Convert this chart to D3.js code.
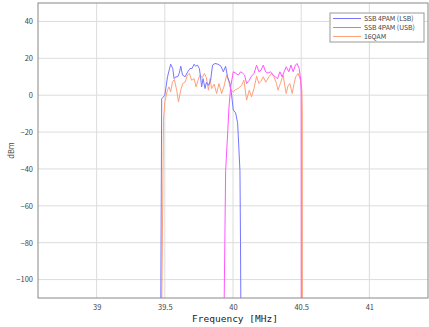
<!DOCTYPE html>
<html>
<head>
<meta charset="utf-8">
<script src="https://cdn.jsdelivr.net/npm/d3@7"></script>
<style>
  body { margin: 0; background: #fff; }
  svg { display: block; }
</style>
</head>
<body>
<div id="chart"></div>
<script>
// spectrum traces (MHz / dBm)
const lsbFreq = [39.470, 39.477, 39.500, 39.520, 39.543, 39.558, 39.568, 39.582, 39.595, 39.606, 39.617, 39.630, 39.649, 39.668, 39.685, 39.700, 39.715, 39.726, 39.740, 39.753, 39.762, 39.770, 39.780, 39.795, 39.805, 39.820, 39.836, 39.850, 39.868, 39.890, 39.912, 39.929, 39.946, 39.960, 39.978, 39.990, 40.002, 40.019, 40.034, 40.051, 40.055, 40.058];
const lsbDbm = [-120, -2, 0, 10, 16.8, 14.5, 9, 10, 10, 12, 15.7, 10.9, 10, 12.7, 14.5, 14.5, 16.8, 15.7, 16.3, 14.5, 10, 4.5, 9, 3.6, 7, 5.4, 8.1, 16.3, 17.2, 16.8, 15.7, 12.7, 15.7, 10, 6.3, 0, -8, -9.6, -15, -41, -80, -120];

const usbFreq = [39.934, 39.946, 39.962, 39.970, 39.983, 40.002, 40.022, 40.039, 40.056, 40.070, 40.085, 40.100, 40.119, 40.136, 40.154, 40.173, 40.190, 40.205, 40.222, 40.239, 40.257, 40.275, 40.295, 40.310, 40.327, 40.344, 40.360, 40.380, 40.390, 40.410, 40.425, 40.441, 40.458, 40.470, 40.485, 40.497, 40.500, 40.501];
const usbDbm = [-120, -41, -19, -7, 4.5, 12.7, 11.8, 10.9, 12.7, 12, 10.9, 6.3, 8.1, 10.3, 11.8, 16.3, 12.7, 13.5, 16.3, 12.7, 12, 12.7, 10.9, 10, 9, 12.7, 10, 13.6, 15.4, 12.7, 16.3, 12.7, 16.3, 17.2, 14.5, 8.1, 0.9, -120];

const qamFreq = [39.477, 39.490, 39.500, 39.519, 39.531, 39.543, 39.556, 39.570, 39.587, 39.600, 39.617, 39.631, 39.650, 39.666, 39.680, 39.697, 39.715, 39.729, 39.743, 39.758, 39.775, 39.790, 39.805, 39.820, 39.832, 39.843, 39.862, 39.880, 39.897, 39.917, 39.935, 39.953, 39.968, 39.985, 40.002, 40.020, 40.039, 40.063, 40.080, 40.100, 40.119, 40.136, 40.154, 40.173, 40.190, 40.205, 40.222, 40.240, 40.263, 40.283, 40.300, 40.319, 40.330, 40.350, 40.368, 40.378, 40.390, 40.403, 40.417, 40.434, 40.447, 40.460, 40.478, 40.495, 40.505, 40.508, 40.509];
const qamDbm = [-120, -13.6, -3.6, 2.7, 4.5, 1.8, 7.2, 8.5, 2.7, -3.6, 2.7, 6.3, 7.2, 10.9, 11.8, 8.1, 9, 4.5, 8, 10.9, 9.5, 11.8, 9.5, 2.7, 9, 3.6, 6, 0.9, 6.3, 0.9, 5, 10.9, 7.5, 2.7, 1.8, 3.1, 3.6, 5.4, 8.1, -2.7, 2.7, -0.9, 3.6, 10.3, 6.3, 7.5, 10, 7, 10, 11.8, 10, 6.3, 2.7, 7, 10.9, 6, 0.9, 5, 6.3, 0.9, 6, 10, 11.8, 8.1, 2.7, -8, -120];

const seriesNames = ["SSB 4PAM (LSB)", "SSB 4PAM (USB)", "16QAM"];
const seriesColors = ["#7676ff", "#ff55ff", "#ffa078"];
const xTicks = [39, 39.5, 40, 40.5, 41];
const yTicks = [-100, -80, -60, -40, -20, 0, 20, 40];

const width = 429, height = 327;
const plotLeft = 38, plotRight = 428, plotTop = 3, plotBottom = 298;

const svg = d3.select("#chart").append("svg")
  .attr("width", width)
  .attr("height", height);

const x = d3.scaleLinear().domain([38.57, 41.43]).range([plotLeft, plotRight]);
const y = d3.scaleLinear().domain([-110, 50]).range([plotBottom, plotTop]);

// grid
svg.append("g").selectAll("line").data(xTicks).enter().append("line")
  .attr("x1", d => x(d)).attr("x2", d => x(d))
  .attr("y1", plotTop).attr("y2", plotBottom)
  .attr("stroke", "#dcdcdc").attr("stroke-width", 1);
svg.append("g").selectAll("line").data(yTicks).enter().append("line")
  .attr("x1", plotLeft).attr("x2", plotRight)
  .attr("y1", d => y(d)).attr("y2", d => y(d))
  .attr("stroke", "#dcdcdc").attr("stroke-width", 1);

svg.append("clipPath").attr("id", "clip").append("rect")
  .attr("x", plotLeft).attr("y", plotTop)
  .attr("width", plotRight - plotLeft).attr("height", plotBottom - plotTop);

const traces = [
  lsbFreq.map((f, i) => [f, lsbDbm[i]]),
  usbFreq.map((f, i) => [f, usbDbm[i]]),
  qamFreq.map((f, i) => [f, qamDbm[i]])
];

const line = d3.line().x(d => x(d[0])).y(d => y(d[1]));

// draw 16QAM first so the others sit on top like the original
const order = [2, 0, 1];
svg.append("g").attr("clip-path", "url(#clip)")
  .selectAll("path").data(order).enter().append("path")
  .attr("d", i => line(traces[i]))
  .attr("fill", "none")
  .attr("stroke", i => seriesColors[i])
  .attr("stroke-width", 1);

// axes
const xAxis = svg.append("g").attr("transform", "translate(0," + plotBottom + ")")
  .call(d3.axisBottom(x).tickValues(xTicks).tickSize(0).tickPadding(7).tickFormat(d3.format("")));
const yAxis = svg.append("g").attr("transform", "translate(" + plotLeft + ",0)")
  .call(d3.axisLeft(y).tickValues(yTicks).tickSize(0).tickPadding(5));
[xAxis, yAxis].forEach(a => {
  a.select(".domain").remove();
  a.selectAll("text").attr("font-family", "Noto Sans CJK JP, sans-serif")
    .attr("font-size", 7.5).attr("fill", "#444");
});

// frame
svg.append("rect")
  .attr("x", plotLeft).attr("y", plotTop)
  .attr("width", plotRight - plotLeft).attr("height", plotBottom - plotTop)
  .attr("fill", "none").attr("stroke", "#888").attr("stroke-width", 1);

svg.append("text")
  .attr("x", (plotLeft + plotRight) / 2 + 2).attr("y", 322)
  .attr("text-anchor", "middle")
  .attr("font-family", "DejaVu Sans Mono, monospace")
  .attr("font-size", 9.5).attr("fill", "#222")
  .text("Frequency [MHz]");

svg.append("text")
  .attr("transform", "translate(14," + ((plotTop + plotBottom) / 2) + ") rotate(-90)")
  .attr("text-anchor", "middle")
  .attr("font-family", "Noto Sans CJK JP, sans-serif")
  .attr("font-size", 7.5).attr("fill", "#444")
  .text("dBm");

// legend
const lg = svg.append("g").attr("transform", "translate(330,13)");
lg.append("rect").attr("width", 94).attr("height", 29)
  .attr("fill", "#fff").attr("stroke", "#999").attr("stroke-width", 1);
seriesNames.forEach((name, i) => {
  const yy = 5.5 + i * 9;
  lg.append("line").attr("x1", 3).attr("x2", 31).attr("y1", yy).attr("y2", yy)
    .attr("stroke", seriesColors[i]).attr("stroke-width", 1);
  lg.append("text").attr("x", 34).attr("y", yy + 2.4)
    .attr("font-family", "Noto Sans CJK JP, sans-serif")
    .attr("font-size", 6.8).attr("fill", "#444")
    .text(name);
});
</script>
</body>
</html>
